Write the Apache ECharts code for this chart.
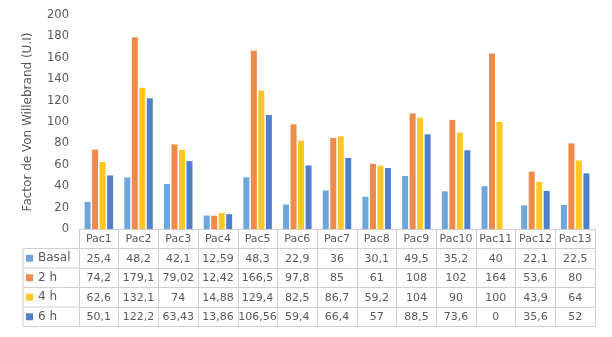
<!DOCTYPE html>
<html><head><meta charset="utf-8">
<script src="https://cdn.jsdelivr.net/npm/echarts@6/dist/echarts.min.js"></script>
<style>html,body{margin:0;padding:0;background:#fff}#c{width:612px;height:337px}</style>
</head><body><div id="c"></div>
<script>
const categories = ['Pac1','Pac2','Pac3','Pac4','Pac5','Pac6','Pac7','Pac8','Pac9','Pac10','Pac11','Pac12','Pac13'];
const seriesNames = ['Basal','2 h','4 h','6 h'];
const basal = [25.4,48.2,42.1,12.59,48.3,22.9,36,30.1,49.5,35.2,40,22.1,22.5];
const h2 = [74.2,179.1,79.02,12.42,166.5,97.8,85,61,108,102,164,53.6,80];
const h4 = [62.6,132.1,74,14.88,129.4,82.5,86.7,59.2,104,90,100,43.9,64];
const h6 = [50.1,122.2,63.43,13.86,106.56,59.4,66.4,57,88.5,73.6,0,35.6,52];
const yTicks = {min:0,max:200,interval:20};
const colors = ['#6EA6DC','#F08A4B','#FFC726','#5080CC'];

const allValues = [basal,h2,h4,h6];
const fmt = v => String(v).replace('.',',');
const textColor = '#595959';
const lineColor = '#D0D0D0';
const font = '"DejaVu Sans"';
const rowH = 19.5;
const baseY = 229;

const chart = echarts.init(document.getElementById('c'));
const xAxes = [{
  type:'category', data:categories, position:'bottom', gridIndex:0,
  axisLine:{show:true,lineStyle:{color:lineColor}},
  axisTick:{show:true,interval:0,length:rowH,lineStyle:{color:lineColor}},
  axisLabel:{interval:0,margin:5,color:textColor,fontSize:11,fontFamily:font}
}];
allValues.forEach((arr,i)=>{
  xAxes.push({
    type:'category', data:arr.map(fmt), position:'bottom', offset:rowH*(i+1),
    axisLine:{show:true,lineStyle:{color:lineColor}},
    axisTick:{show:true,interval:0,length:rowH,lineStyle:{color:lineColor}},
    axisLabel:{interval:0,margin:5,color:textColor,fontSize:11,fontFamily:font,hideOverlap:false}
  });
});
xAxes.push({
  type:'category', data:categories, position:'bottom', offset:rowH*5,
  axisLine:{show:true,lineStyle:{color:lineColor}},
  axisTick:{show:false}, axisLabel:{show:false}
});

const series = allValues.map((arr,i)=>({
  name:seriesNames[i], type:'bar', data:arr, xAxisIndex:0,
  barWidth:6, barGap:'25%', itemStyle:{color:colors[i]}
}));

const graphics = [];
for(let k=1;k<=5;k++){
  const y = baseY + rowH*k;
  graphics.push({type:'line',shape:{x1:23,y1:y,x2:79,y2:y},style:{stroke:lineColor,lineWidth:1}});
}
graphics.push({type:'line',shape:{x1:23,y1:baseY+rowH,x2:23,y2:baseY+rowH*5},style:{stroke:lineColor,lineWidth:1}});
seriesNames.forEach((n,i)=>{
  const cy = baseY + rowH*(i+1) + rowH/2;
  graphics.push({type:'rect',shape:{x:26,y:cy-3.5,width:7,height:7},style:{fill:colors[i]}});
  graphics.push({type:'text',x:38,y:cy,style:{text:n,fill:textColor,fontSize:12,fontFamily:font,verticalAlign:'middle',align:'left'}});
});

chart.setOption({
  animation:false,
  textStyle:{fontFamily:font},
  grid:{left:79,right:17,top:15,bottom:108,containLabel:false},
  xAxis:xAxes,
  yAxis:{
    type:'value', min:yTicks.min, max:yTicks.max, interval:yTicks.interval,
    name:'Factor de Von Willebrand (U.I)', nameLocation:'middle', nameGap:45,
    nameTextStyle:{color:textColor,fontSize:12,fontFamily:font},
    axisLine:{show:false}, axisTick:{show:false}, splitLine:{show:false},
    axisLabel:{color:textColor,fontSize:11.5,margin:10,fontFamily:font}
  },
  graphic:graphics,
  series:series
});
</script></body></html>
